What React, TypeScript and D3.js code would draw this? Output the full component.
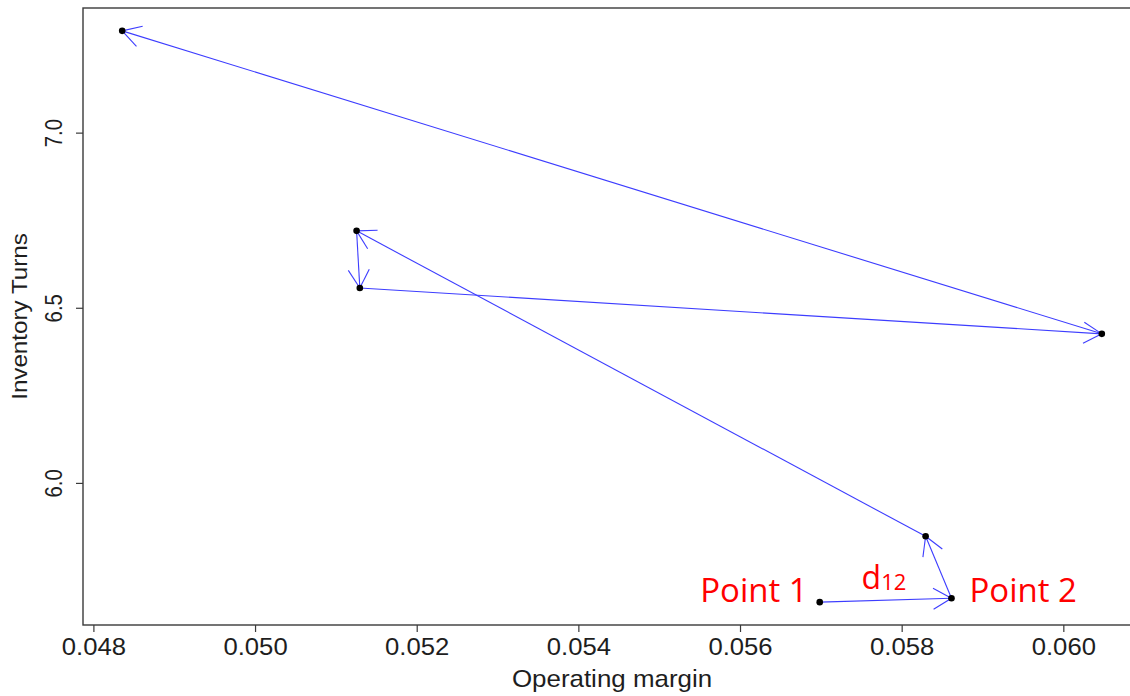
import React, { useRef, useEffect } from 'react';
import * as d3 from 'd3';

// points in path order: Point 1 -> Point 2 -> ... -> last
const margins = [0.05698, 0.05861, 0.05829, 0.05125, 0.05129, 0.06047, 0.04835];
const turns = [5.661, 5.672, 5.849, 6.721, 6.558, 6.427, 7.292];
const xTicks = [0.048, 0.05, 0.052, 0.054, 0.056, 0.058, 0.06];
const yTicks = [6.0, 6.5, 7.0];
const pointLabels = ['Point 1', 'Point 2'];

const width = 1130;
const height = 696;
const box = { left: 83, right: 1141, top: 8, bottom: 625 };

// R style axis range: data extent padded by 4%
const padded = (vals: number[]) => {
  const [a, b] = d3.extent(vals) as [number, number];
  const p = (b - a) * 0.04;
  return [a - p, b + p];
};

const App = () => {
  const svgRef = useRef<SVGSVGElement>(null);

  useEffect(() => {
    const svg = d3.select(svgRef.current);
    svg.selectAll('*').remove();

    const x = d3.scaleLinear().domain(padded(margins)).range([box.left, box.right]);
    const y = d3.scaleLinear().domain(padded(turns)).range([box.bottom, box.top]);

    const axisFont = "'Liberation Sans', Arial, sans-serif";
    const ink = '#1e1e1e';

    // frame
    svg.append('rect')
      .attr('x', box.left)
      .attr('y', box.top)
      .attr('width', box.right - box.left)
      .attr('height', box.bottom - box.top)
      .attr('fill', 'none')
      .attr('stroke', '#3a3a3a')
      .attr('stroke-width', 1.4);

    // x axis
    svg.selectAll('line.xtick')
      .data(xTicks)
      .join('line')
      .attr('class', 'xtick')
      .attr('x1', d => x(d))
      .attr('x2', d => x(d))
      .attr('y1', box.bottom)
      .attr('y2', box.bottom + 7)
      .attr('stroke', '#3a3a3a')
      .attr('stroke-width', 1.2);

    svg.selectAll('text.xlab')
      .data(xTicks)
      .join('text')
      .attr('class', 'xlab')
      .attr('transform', d => `translate(${x(d)},655) scale(1.07,1)`)
      .attr('text-anchor', 'middle')
      .attr('font-family', axisFont)
      .attr('font-size', 24)
      .attr('fill', ink)
      .text(d => d3.format('.3f')(d));

    svg.append('text')
      .attr('transform', `translate(${(box.left + box.right) / 2},687) scale(1.08,1)`)
      .attr('text-anchor', 'middle')
      .attr('font-family', axisFont)
      .attr('font-size', 24)
      .attr('fill', ink)
      .text('Operating margin');

    // y axis
    svg.selectAll('line.ytick')
      .data(yTicks)
      .join('line')
      .attr('class', 'ytick')
      .attr('x1', box.left)
      .attr('x2', box.left - 7)
      .attr('y1', d => y(d))
      .attr('y2', d => y(d))
      .attr('stroke', '#3a3a3a')
      .attr('stroke-width', 1.2);

    svg.selectAll('text.ylab')
      .data(yTicks)
      .join('text')
      .attr('class', 'ylab')
      .attr('transform', d => `translate(62,${y(d)}) scale(1,0.85) rotate(-90)`)
      .attr('text-anchor', 'middle')
      .attr('font-family', axisFont)
      .attr('font-size', 24)
      .attr('fill', ink)
      .text(d => d3.format('.1f')(d));

    svg.append('text')
      .attr('transform', `translate(27,${(box.top + box.bottom) / 2}) scale(1,1.1) rotate(-90)`)
      .attr('text-anchor', 'middle')
      .attr('font-family', axisFont)
      .attr('font-size', 22)
      .attr('fill', ink)
      .text('Inventory Turns');

    // arrows between consecutive points
    const pts = margins.map((m, i) => [x(m), y(turns[i])]);
    const segs = d3.pairs(pts);
    const headLen = 21;
    const headAng = Math.PI / 6;

    const g = svg.append('g')
      .attr('stroke', '#3d3dff')
      .attr('stroke-width', 1.1)
      .attr('fill', 'none');

    segs.forEach(([a, b]) => {
      g.append('line')
        .attr('x1', a[0]).attr('y1', a[1])
        .attr('x2', b[0]).attr('y2', b[1]);
      const ang = Math.atan2(a[1] - b[1], a[0] - b[0]);
      [-headAng, headAng].forEach(da => {
        g.append('line')
          .attr('x1', b[0]).attr('y1', b[1])
          .attr('x2', b[0] + headLen * Math.cos(ang + da))
          .attr('y2', b[1] + headLen * Math.sin(ang + da));
      });
    });

    // points
    svg.selectAll('circle.pt')
      .data(pts)
      .join('circle')
      .attr('class', 'pt')
      .attr('cx', d => d[0])
      .attr('cy', d => d[1])
      .attr('r', 3.3)
      .attr('fill', '#000');

    // annotations
    const noteFont = "'Open Sans', 'Noto Sans', sans-serif";
    const [p1, p2] = pts;

    svg.append('text')
      .attr('x', p1[0] - 12)
      .attr('y', p1[1])
      .attr('text-anchor', 'end')
      .attr('font-family', noteFont)
      .attr('font-size', 33)
      .attr('fill', '#ff0000')
      .text(pointLabels[0]);

    svg.append('text')
      .attr('x', p2[0] + 18)
      .attr('y', p2[1] + 4)
      .attr('text-anchor', 'start')
      .attr('font-family', noteFont)
      .attr('font-size', 33)
      .attr('fill', '#ff0000')
      .text(pointLabels[1]);

    const d12 = svg.append('text')
      .attr('x', (p1[0] + p2[0]) / 2 - 24)
      .attr('y', (p1[1] + p2[1]) / 2 - 11)
      .attr('font-family', noteFont)
      .attr('fill', '#ff0000');
    d12.append('tspan').attr('font-size', 32).text('d');
    d12.append('tspan').attr('font-size', 22).attr('dy', 1).text('12');
  }, []);

  return (
    <svg
      ref={svgRef}
      width={width}
      height={height}
      style={{ position: 'absolute', left: 0, top: 0, background: '#fff' }}
    />
  );
};

export default App;
